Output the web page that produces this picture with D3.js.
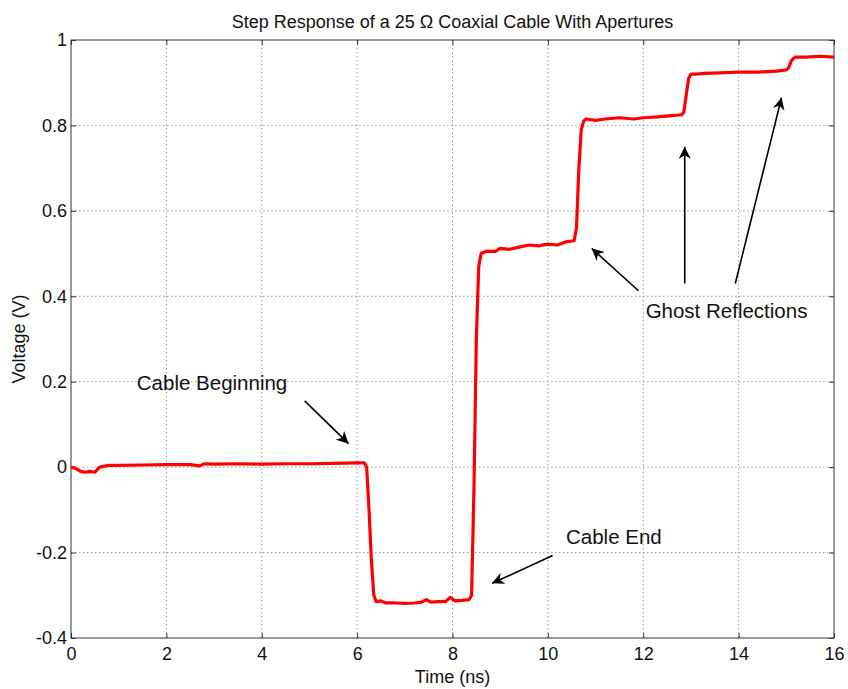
<!DOCTYPE html>
<html lang="en">
<head>
<meta charset="UTF-8">
<title>Step Response</title>
<script src="https://d3js.org/d3.v7.min.js"></script>
<style>
  body { margin: 0; background: #fff; }
  svg { font-family: "Liberation Sans", Arial, sans-serif; }
  .grid line { stroke: #999; stroke-dasharray: 1.5 2.5; }
  .ann { font-size: 20.5px; fill: #111; }
</style>
</head>
<body>
<svg width="848" height="689"></svg>
<script>
// measured trace (ns, V)
const timeNs = [0, 0.1, 0.2, 0.3, 0.4, 0.5, 0.6, 0.8, 1.0, 1.5, 2.0, 2.5, 2.7, 2.8, 3.0, 3.5, 4.0, 4.5, 5.0, 5.5, 6.0, 6.15, 6.2, 6.25, 6.3, 6.35, 6.4, 6.5, 6.6, 6.8, 7.0, 7.2, 7.35, 7.45, 7.55, 7.7, 7.85, 7.95, 8.05, 8.2, 8.35, 8.4, 8.45, 8.5, 8.55, 8.6, 8.7, 8.9, 9.0, 9.2, 9.4, 9.6, 9.8, 10.0, 10.2, 10.4, 10.55, 10.6, 10.65, 10.7, 10.75, 10.8, 11.0, 11.2, 11.5, 11.8, 12.0, 12.3, 12.6, 12.8, 12.85, 12.9, 12.95, 13.0, 13.1, 13.3, 13.6, 14.0, 14.4, 14.8, 15.0, 15.05, 15.1, 15.15, 15.2, 15.4, 15.7, 16.0];
const voltage = [0, -0.003, -0.01, -0.012, -0.01, -0.012, 0.0, 0.004, 0.004, 0.005, 0.006, 0.006, 0.003, 0.008, 0.007, 0.008, 0.007, 0.008, 0.008, 0.009, 0.01, 0.01, 0.0, -0.1, -0.22, -0.3, -0.315, -0.313, -0.318, -0.318, -0.319, -0.318, -0.316, -0.31, -0.316, -0.315, -0.315, -0.305, -0.313, -0.312, -0.31, -0.3, -0.05, 0.3, 0.47, 0.5, 0.505, 0.505, 0.512, 0.51, 0.515, 0.52, 0.518, 0.522, 0.52, 0.528, 0.53, 0.56, 0.7, 0.79, 0.81, 0.815, 0.812, 0.815, 0.818, 0.815, 0.818, 0.82, 0.823, 0.825, 0.83, 0.87, 0.91, 0.92, 0.92, 0.922, 0.923, 0.925, 0.925, 0.927, 0.93, 0.935, 0.95, 0.957, 0.96, 0.96, 0.962, 0.96];

const xTicks = [0, 2, 4, 6, 8, 10, 12, 14, 16];
const yTicks = [-0.4, -0.2, 0, 0.2, 0.4, 0.6, 0.8, 1];

// annotations: label + arrows in data units [fromT, fromV, toT, toV]
const labels = [
  { text: "Cable Beginning", t: 1.38, v: 0.18 },
  { text: "Cable End", t: 10.38, v: -0.18 },
  { text: "Ghost Reflections", t: 12.05, v: 0.349 }
];
const arrows = [
  [4.9, 0.155, 5.82, 0.055],
  [10.1, -0.207, 8.83, -0.272],
  [11.9, 0.413, 10.92, 0.512],
  [12.87, 0.43, 12.87, 0.75],
  [13.93, 0.43, 14.9, 0.865]
];

const margin = { left: 71, right: 14, top: 40, bottom: 51 };
const W = 848, H = 689;
const svg = d3.select("svg");

const x = d3.scaleLinear().domain([0, 16]).range([margin.left, W - margin.right]);
const y = d3.scaleLinear().domain([-0.4, 1]).range([H - margin.bottom, margin.top]);

svg.append("defs").append("marker")
  .attr("id", "head").attr("viewBox", "0 0 10 10")
  .attr("refX", 10).attr("refY", 5)
  .attr("markerWidth", 12).attr("markerHeight", 12)
  .attr("markerUnits", "userSpaceOnUse")
  .attr("orient", "auto")
  .append("path").attr("d", "M0,0 L10,5 L0,10 L3,5 Z").attr("fill", "#000");

// grid
const grid = svg.append("g").attr("class", "grid");
grid.selectAll(".gx").data(xTicks.slice(1, -1)).join("line")
  .attr("x1", d => x(d)).attr("x2", d => x(d))
  .attr("y1", y(1)).attr("y2", y(-0.4));
grid.selectAll(".gy").data(yTicks.slice(1, -1)).join("line")
  .attr("y1", d => y(d)).attr("y2", d => y(d))
  .attr("x1", x(0)).attr("x2", x(16));

// axes, MATLAB style ticks pointing in on all sides
const tk = 5;
const fmtY = d => (d === 0 || d === 1) ? String(d) : d.toFixed(1);
svg.append("g").attr("transform", `translate(0,${y(-0.4)})`)
  .call(d3.axisBottom(x).tickValues(xTicks).tickSize(-tk).tickPadding(9))
  .call(g => g.select(".domain").remove());
svg.append("g").attr("transform", `translate(0,${y(1)})`)
  .call(d3.axisTop(x).tickValues(xTicks).tickSize(-tk).tickFormat(""))
  .call(g => g.select(".domain").remove());
svg.append("g").attr("transform", `translate(${x(0)},0)`)
  .call(d3.axisLeft(y).tickValues(yTicks).tickSize(-tk).tickPadding(4).tickFormat(fmtY))
  .call(g => g.select(".domain").remove());
svg.append("g").attr("transform", `translate(${x(16)},0)`)
  .call(d3.axisRight(y).tickValues(yTicks).tickSize(-tk).tickFormat(""))
  .call(g => g.select(".domain").remove());
svg.selectAll(".tick line").attr("stroke", "#333");
svg.selectAll(".tick text").attr("font-size", 18).attr("fill", "#111")
  .attr("font-family", "'Liberation Sans', Arial, sans-serif");

svg.append("rect")
  .attr("x", x(0)).attr("y", y(1))
  .attr("width", x(16) - x(0)).attr("height", y(-0.4) - y(1))
  .attr("fill", "none").attr("stroke", "#333").attr("stroke-width", 1);

// trace
const pts = timeNs.map((t, i) => [t, voltage[i]]);
svg.append("path").datum(pts)
  .attr("fill", "none").attr("stroke", "#ff0000").attr("stroke-width", 3.2)
  .attr("stroke-linejoin", "round")
  .attr("d", d3.line().x(d => x(d[0])).y(d => y(d[1])));

// titles
svg.append("text").attr("x", (x(0) + x(16)) / 2).attr("y", 28)
  .attr("text-anchor", "middle").attr("font-size", 18).attr("fill", "#111")
  .text("Step Response of a 25 \u03A9 Coaxial Cable With Apertures");
svg.append("text").attr("x", (x(0) + x(16)) / 2).attr("y", 683)
  .attr("text-anchor", "middle").attr("font-size", 18).attr("fill", "#111")
  .text("Time (ns)");
svg.append("text").attr("transform", `translate(25,${(y(1) + y(-0.4)) / 2}) rotate(-90)`)
  .attr("text-anchor", "middle").attr("font-size", 18).attr("fill", "#111")
  .text("Voltage (V)");

// annotations
svg.selectAll(".ann").data(labels).join("text")
  .attr("class", "ann")
  .attr("x", d => x(d.t)).attr("y", d => y(d.v))
  .text(d => d.text);
svg.selectAll(".arr").data(arrows).join("line")
  .attr("x1", d => x(d[0])).attr("y1", d => y(d[1]))
  .attr("x2", d => x(d[2])).attr("y2", d => y(d[3]))
  .attr("stroke", "#000").attr("stroke-width", 1.6)
  .attr("marker-end", "url(#head)");
</script>
</body>
</html>
